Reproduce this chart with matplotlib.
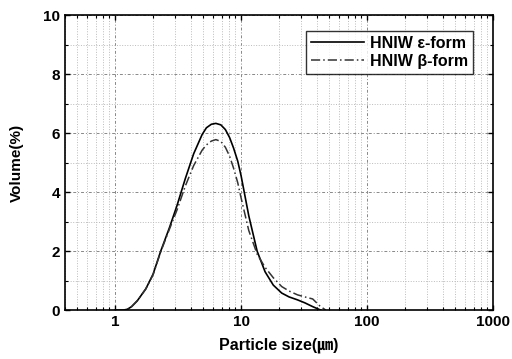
import matplotlib
matplotlib.use('Agg')
import matplotlib.pyplot as plt
from matplotlib.ticker import LogLocator, MultipleLocator, FixedLocator

plt.rcParams['font.family'] = ['Liberation Sans', 'Noto Sans CJK KR', 'DejaVu Sans']
plt.rcParams['font.weight'] = 'bold'

# particle size (um) and volume (%)
size_e = [1.0, 1.15, 1.25, 1.35, 1.5, 1.75, 2.0, 2.3, 2.7, 3.1, 3.6, 4.2, 4.9, 5.3, 5.8, 6.3,
          6.9, 7.5, 8.1, 8.7, 9.4, 10, 11.5, 13.4, 15.5, 18, 21, 24, 28, 32, 37, 43]
vol_e = [0, 0, 0.03, 0.12, 0.32, 0.72, 1.22, 2.0, 2.8, 3.55, 4.45, 5.3, 5.95, 6.18, 6.3, 6.33,
         6.28, 6.12, 5.85, 5.5, 5.05, 4.55, 3.2, 2.0, 1.3, 0.85, 0.58, 0.45, 0.35, 0.25, 0.12, 0.0]

size_b = [1.0, 1.15, 1.25, 1.35, 1.5, 1.75, 2.0, 2.3, 2.7, 3.1, 3.6, 4.2, 4.9, 5.3, 5.8, 6.3,
          6.9, 7.5, 8.1, 8.7, 9.4, 10, 11.5, 13.4, 15.5, 18, 21, 24, 28, 32, 37, 42, 47]
vol_b = [0, 0, 0.03, 0.12, 0.32, 0.72, 1.2, 1.98, 2.75, 3.4, 4.2, 4.9, 5.42, 5.6, 5.73, 5.78,
         5.72, 5.52, 5.22, 4.82, 4.32, 3.8, 2.7, 1.9, 1.45, 1.1, 0.8, 0.65, 0.52, 0.45, 0.38, 0.15, 0.0]

labels = ['HNIW \u03b5-form', 'HNIW \u03b2-form']

fig = plt.figure(figsize=(5.12, 3.59), dpi=100)
ax = fig.add_axes([0.127, 0.136, 0.836, 0.822])

ax.plot(size_e, vol_e, color='black', lw=1.2, ls='-', label=labels[0])
ax.plot(size_b, vol_b, color='#333333', lw=1.1, ls=(0, (6, 2, 1, 2)), label=labels[1])

ax.set_xscale('log')
ax.set_xlim(0.4, 1000)
ax.set_ylim(0, 10)
ax.xaxis.set_major_locator(FixedLocator([1, 10, 100, 1000]))
ax.xaxis.set_minor_locator(LogLocator(base=10, subs=range(2, 10), numticks=20))
ax.set_xticklabels(['1', '10', '100', '1000'])
ax.yaxis.set_major_locator(MultipleLocator(2))
ax.yaxis.set_minor_locator(MultipleLocator(1))

ax.tick_params(which='both', direction='in', top=True, right=True, labelsize=11)
ax.tick_params(which='major', length=3.5, width=1)
ax.tick_params(which='minor', length=2, width=0.8)

ax.grid(True, which='major', color='#888888', ls=(0, (3, 2, 1, 2)), lw=0.7)
ax.grid(True, which='minor', color='#bbbbbb', ls=':', lw=0.7)

for s in ax.spines.values():
    s.set_linewidth(1.2)

ax.set_xlabel('Particle size(\u339b)', fontsize=11.5, fontweight='bold', labelpad=6)
ax.set_ylabel('Volume(%)', fontsize=11, fontweight='bold', labelpad=14)

leg = ax.legend(loc='upper right', bbox_to_anchor=(0.953, 0.946), fontsize=11.5,
                frameon=True, fancybox=False, borderpad=0.3, labelspacing=0.2,
                handlelength=3.3, handletextpad=0.4, borderaxespad=0)
leg.get_frame().set_edgecolor('black')
leg.get_frame().set_linewidth(1.0)

plt.savefig('out.png', dpi=100)
